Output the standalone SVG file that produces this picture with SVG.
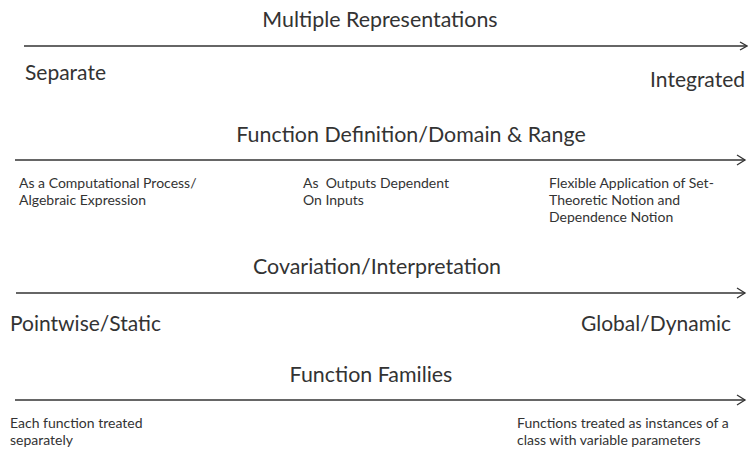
<svg xmlns="http://www.w3.org/2000/svg" width="748" height="452" viewBox="0 0 748 452">
<style>
text{font-family:Lato,"Open Sans","Liberation Sans",sans-serif;fill:#333}
.h{font-size:21.4px;text-anchor:middle}
.m{font-size:21px}
.s{font-size:14px}
.ax{stroke:#333;stroke-width:1.5;fill:none}
.hd{stroke:#333;stroke-width:1.3;fill:none}
</style>
<rect width="748" height="452" fill="#fff"/>
<g id="connectors">
<line class="ax" x1="24" y1="46" x2="746" y2="46"/>
<polyline class="hd" points="740,42 747,46 740,50"/>
<line class="ax" x1="15" y1="160" x2="745" y2="160"/>
<polyline class="hd" points="737,155 745,160 737,165"/>
<line class="ax" x1="16" y1="293" x2="745" y2="293"/>
<polyline class="hd" points="737,288 745,293 737,298"/>
<line class="ax" x1="15" y1="400" x2="745" y2="400"/>
<polyline class="hd" points="737,395 745,400 737,405"/>
</g>
<g id="multiple-representations">
<text class="h" x="380" y="27">Multiple Representations</text>
<text class="m" x="25" y="80">Separate</text>
<text class="m" x="745" y="87" text-anchor="end">Integrated</text>
</g>
<g id="function-definition">
<text class="h" x="411" y="142">Function Definition/Domain &amp; Range</text>
<text class="s" x="19" y="188">As a Computational Process/</text>
<text class="s" x="19" y="205">Algebraic Expression</text>
<text class="s" x="303" y="188" xml:space="preserve">As  Outputs Dependent</text>
<text class="s" x="303" y="205">On Inputs</text>
<text class="s" x="549" y="188">Flexible Application of Set-</text>
<text class="s" x="549" y="205">Theoretic Notion and</text>
<text class="s" x="549" y="222">Dependence Notion</text>
</g>
<g id="covariation">
<text class="h" x="377" y="274">Covariation/Interpretation</text>
<text class="m" x="10" y="331">Pointwise/Static</text>
<text class="m" x="581" y="331">Global/Dynamic</text>
</g>
<g id="function-families">
<text class="h" x="371" y="382">Function Families</text>
<text class="s" x="10" y="428">Each function treated</text>
<text class="s" x="10" y="445">separately</text>
<text class="s" x="517" y="428">Functions treated as instances of a</text>
<text class="s" x="517" y="445">class with variable parameters</text>
</g>
</svg>
